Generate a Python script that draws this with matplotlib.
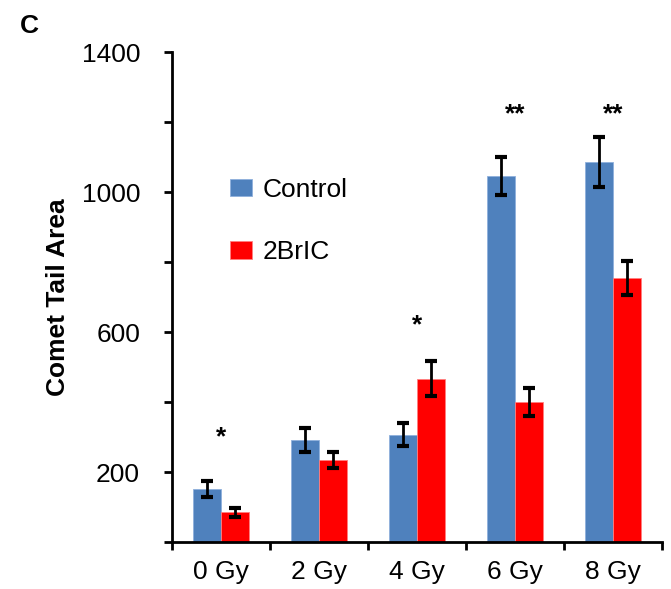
import matplotlib
matplotlib.use("Agg")
import matplotlib.pyplot as plt
import numpy as np

plt.rcParams['font.family'] = ['Liberation Sans', 'DejaVu Sans']

categories = ["0 Gy", "2 Gy", "4 Gy", "6 Gy", "8 Gy"]
control = [152, 291, 307, 1046, 1086]
control_err = [23, 35, 33, 55, 72]
bric = [85, 234, 467, 400, 755]
bric_err = [13, 23, 50, 40, 49]
stars = ["*", "", "*", "**", "**"]
star_y = [300, 0, 620, 1222, 1222]

fig = plt.figure(figsize=(6.71, 5.89), dpi=100)
ax = fig.add_axes([172/671, 1-542/589, 490/671, 490/589])

x = np.arange(len(categories))
w = 0.287
ax.bar(x - w/2, control, w, color='#4f81bd', edgecolor='#8fb0dc', linewidth=0.6, label='Control')
ax.bar(x + w/2, bric, w, color='#ff0000', edgecolor='#ff8080', linewidth=0.6, label='2BrIC')
ax.errorbar(x - w/2, control, yerr=control_err, fmt='none', ecolor='black', elinewidth=2, capsize=4, capthick=3)
ax.errorbar(x + w/2, bric, yerr=bric_err, fmt='none', ecolor='black', elinewidth=2, capsize=4, capthick=3)

for xi, s, sy in zip(x, stars, star_y):
    if s:
        ax.text(xi, sy, s, ha='center', va='center', fontsize=19, fontweight='bold')

ax.set_xlim(-0.5, 4.5)
ax.set_ylim(0, 1400)
ax.set_yticks(np.arange(0, 1401, 200))
ax.set_yticklabels(["" if v % 400 == 0 else str(v) for v in range(0, 1401, 200)])
ax.set_xticks(x)
ax.set_xticklabels(categories)
ax.set_xticks(np.arange(-0.5, 4.6, 1), minor=True)
ax.tick_params(axis='x', which='major', length=0, labelsize=19, pad=13)
ax.tick_params(axis='x', which='minor', length=6, width=2, direction='out')
ax.tick_params(axis='y', which='major', length=6, width=2, direction='out', labelsize=19, pad=17)

for side in ['top', 'right']:
    ax.spines[side].set_visible(False)
for side in ['left', 'bottom']:
    ax.spines[side].set_linewidth(2)

ax.set_ylabel("Comet Tail Area", fontsize=19, fontweight='bold', labelpad=8)

ax.legend(loc='center left', bbox_to_anchor=((230-172)/490, (542-221)/490), frameon=False, fontsize=19,
          labelspacing=1.45, handlelength=0.83, handleheight=0.64, handletextpad=0.42,
          borderpad=0, borderaxespad=0)

fig.text(29/671, 1-26/589, "C", fontsize=19, fontweight='bold', ha='center', va='center')

fig.savefig("out.png", dpi=100)
